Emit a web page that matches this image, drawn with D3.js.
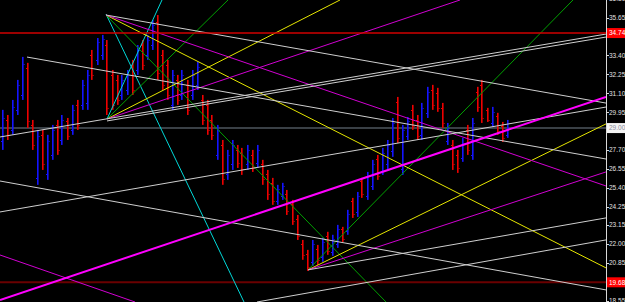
<!DOCTYPE html>
<html><head><meta charset="utf-8">
<script src="https://cdn.jsdelivr.net/npm/d3@7"></script>
<style>html,body{margin:0;padding:0;background:#000;overflow:hidden}svg{display:block}</style>
</head><body><svg id="c" width="625" height="302"></svg>
<script>
// ---- data (prices) ----
const highs=[30.10,29.79,30.70,31.91,33.30,32.94,29.49,28.89,28.89,28.59,29.19,29.49,29.79,29.61,30.40,30.70,31.91,32.51,33.72,34.44,
34.63,34.32,32.51,32.21,32.21,32.51,33.12,34.02,34.32,34.63,35.53,35.83,33.72,33.12,32.51,32.21,32.51,31.91,32.51,33.00,
31.00,30.70,29.79,29.19,28.28,27.68,28.28,27.98,27.80,27.98,27.68,27.98,27.08,26.47,25.99,25.57,25.69,25.26,24.66,23.75,
22.24,21.64,22.24,21.94,22.37,22.73,22.55,23.15,23.03,24.06,24.78,25.14,25.99,26.35,27.08,27.38,27.80,28.28,29.61,30.88,
29.19,29.67,30.40,29.79,30.52,31.49,31.61,31.43,30.52,29.31,28.28,27.68,28.41,29.19,29.61,31.49,31.91,30.22,30.28,29.92,
29.37,29.49];
const lows=[27.68,28.28,28.59,29.79,30.70,29.01,27.68,25.57,26.47,25.87,27.08,27.38,27.98,28.28,28.59,28.89,30.10,30.10,31.91,32.81,
33.12,29.79,30.10,30.40,30.70,31.00,31.00,32.21,32.51,33.12,33.72,31.91,31.30,30.70,30.10,30.40,30.70,29.79,30.70,31.30,
29.19,28.59,28.28,27.08,25.57,25.87,26.47,26.59,26.17,26.47,26.35,26.59,25.57,24.66,24.36,24.36,24.66,23.75,23.15,22.24,
21.04,20.37,20.67,20.73,20.92,21.34,21.28,21.76,22.12,22.55,23.57,23.63,24.78,24.66,25.26,25.87,26.17,26.47,27.26,28.10,
26.17,28.28,28.89,28.28,28.28,29.61,30.10,29.98,29.01,27.98,26.47,26.29,26.96,27.38,27.08,29.98,29.31,29.37,29.07,28.59,
28.16,28.41];
const opens=[28.2,29.5,28.9,30.1,31.0,32.6,29.2,26.0,28.6,26.2,27.4,29.2,28.3,29.4,28.9,30.4,30.4,30.5,33.4,33.1,
33.4,34.0,32.2,31.9,31.0,31.3,32.8,32.5,34.0,33.4,34.0,35.4,33.4,32.8,30.4,31.9,31.0,31.6,31.0,31.6,
30.7,30.4,29.5,27.4,28.0,26.2,26.8,27.7,27.5,26.8,27.4,26.9,26.8,26.2,25.7,24.6,24.9,25.0,24.4,23.5,
22.0,21.4,20.9,21.7,21.2,22.5,21.5,22.0,22.9,22.8,24.6,23.9,25.8,24.9,25.5,27.1,26.4,26.8,27.6,30.6,
26.5,28.5,30.1,29.5,28.6,29.9,31.3,31.1,30.2,28.2,28.0,27.4,27.2,28.9,27.4,31.2,31.6,30.1,29.3,29.7,
29.1,28.6];
const closes=[29.6,28.6,30.3,31.6,32.9,29.4,28.0,28.5,26.8,28.2,28.9,27.7,29.5,28.5,30.1,29.2,31.6,32.2,32.2,34.2,
34.4,30.2,30.4,30.7,31.9,32.2,31.3,33.7,32.8,34.3,35.2,32.3,31.6,31.0,32.2,30.7,32.2,30.1,32.2,32.7,
29.5,28.9,28.6,28.9,25.9,27.4,28.0,26.9,26.5,27.7,26.6,27.7,25.9,25.0,24.6,25.3,25.5,24.0,23.4,22.5,
21.3,20.6,22.0,21.0,22.1,21.6,22.3,22.9,22.3,23.8,23.8,24.9,25.0,26.1,26.8,26.1,27.5,28.0,29.3,28.4,
28.9,29.4,29.1,28.5,30.2,31.2,30.4,30.2,29.3,29.0,26.8,26.6,28.1,27.7,29.3,30.3,29.6,29.5,30.0,28.8,
28.4,29.3];
const tickValues=[36.80,35.65,34.50,33.40,32.25,31.10,29.95,28.80,27.70,26.55,25.40,24.25,23.15,22.00,20.85,19.70,18.55];
// trend lines: [barIndex1, price1, barIndex2, price2]
const whiteLines=[[4.9,33.29,120.7,27.13],[20.7,35.83,120.7,30.51],[-0.5,28.46,120.7,34.68],[20.9,29.43,120.7,34.50],
 [61.1,20.43,120.7,23.57],[50.9,18.49,120.7,22.24],[-0.5,25.80,120.7,19.22],[-0.5,23.93,120.7,30.27]];
const magentaLines=[[20.7,35.83,120.7,25.50],[20.9,29.55,91.5,36.74],[61.1,20.43,120.7,26.35],[-0.5,21.33,26.5,18.49]];
const magentaMain=[[-0.5,18.61,120.7,30.88]];
const yellowLines=[[20.7,35.83,120.7,20.55],[20.9,29.55,67.5,36.74],[61.1,20.43,120.7,29.25]];
const greenLines=[[20.9,29.55,45.1,36.74],[20.7,35.83,76.7,18.49],[61.1,20.43,114.1,36.74]];
const cyanLines=[[20.7,35.89,48.3,18.49],[20.9,29.55,31.9,36.74]];
const resistanceLevel=34.74, currentLevel=29.00, supportLevel=19.68;
const resistanceLabel="34.74", currentLabel="29.00", supportLabel="19.68";

// ---- drawing ----
const W=625,H=302,plotR=606;
const svg=d3.select("#c");
svg.append("rect").attr("width",W).attr("height",H).attr("fill","#000");
const x=d3.scaleLinear().domain([0,101]).range([2.5,507.5]);
const y=d3.scaleLinear().domain([35.65,18.55]).range([18,301]);
svg.append("defs").append("clipPath").attr("id","pc").append("rect").attr("x",0).attr("y",0).attr("width",plotR).attr("height",H);
const g=svg.append("g").attr("clip-path","url(#pc)");

// horizontal levels
g.append("line").attr("x1",0).attr("x2",plotR).attr("y1",y(currentLevel)).attr("y2",y(currentLevel)).attr("stroke","#3a4046").attr("stroke-width",2);
g.append("line").attr("x1",0).attr("x2",plotR).attr("y1",y(supportLevel)).attr("y2",y(supportLevel)).attr("stroke","#6a0000").attr("stroke-width",2);

// bars
const bars=d3.range(highs.length).map(i=>({i,h:highs[i],l:lows[i],o:opens[i],c:closes[i]}));
const col=d=>d.c>=d.o?"#1414ff":"#ee0000";
const bg=g.append("g");
bg.selectAll("rect.b").data(bars).join("rect").attr("x",d=>Math.round(x(d.i))-1).attr("width",1.6)
 .attr("y",d=>y(d.h)).attr("height",d=>y(d.l)-y(d.h)).attr("fill",col);
bg.selectAll("rect.o").data(bars).join("rect").attr("x",d=>Math.round(x(d.i))-2).attr("width",1)
 .attr("y",d=>Math.round(y(d.o))).attr("height",1).attr("fill",col);
bg.selectAll("rect.cl").data(bars).join("rect").attr("x",d=>Math.round(x(d.i))+0.6).attr("width",1)
 .attr("y",d=>Math.round(y(d.c))).attr("height",1).attr("fill",col);

function drawLines(arr,color,w){
  g.append("g").selectAll("line").data(arr).join("line")
   .attr("x1",d=>x(d[0])).attr("y1",d=>y(d[1])).attr("x2",d=>x(d[2])).attr("y2",d=>y(d[3]))
   .attr("stroke",color).attr("stroke-width",w);
}
drawLines(cyanLines,"#00d8d8",1);
drawLines(greenLines,"#00a000",1);
drawLines(yellowLines,"#e6e600",1);
drawLines(magentaLines,"#d200d2",1);
drawLines(whiteLines,"#cfcfcf",1);
drawLines(magentaMain,"#ff00ff",2);
g.append("line").attr("x1",0).attr("x2",plotR).attr("y1",y(resistanceLevel)).attr("y2",y(resistanceLevel)).attr("stroke","#d00000").attr("stroke-width",1.5);

// axis
svg.append("line").attr("x1",plotR+0.5).attr("x2",plotR+0.5).attr("y1",0).attr("y2",H).attr("stroke","#d8d8d8").attr("stroke-width",1);
const ax=svg.append("g");
ax.selectAll("line").data(tickValues).join("line").attr("x1",plotR+1).attr("x2",plotR+3)
 .attr("y1",d=>Math.round(y(d))+0.5).attr("y2",d=>Math.round(y(d))+0.5).attr("stroke","#d8d8d8");
const markers=[resistanceLevel,currentLevel,supportLevel];
const visibleTicks=tickValues.filter(v=>markers.every(m=>Math.abs(y(v)-y(m))>6));
ax.selectAll("text").data(visibleTicks).join("text").attr("x",609).attr("y",d=>y(d)).attr("dy","0.35em")
 .attr("fill","#e0e0e0").attr("font-family","Liberation Sans, Arial, sans-serif").attr("font-size","6.5px")
 .text(d=>d.toFixed(2));

function marker(v,label,fill,tc){
  const m=svg.append("g");
  m.append("rect").attr("x",607).attr("y",y(v)-5).attr("width",18).attr("height",10).attr("fill",fill);
  m.append("text").attr("x",609).attr("y",y(v)).attr("dy","0.35em").attr("fill",tc)
   .attr("font-family","Liberation Sans, Arial, sans-serif").attr("font-size","6.5px").text(label);
}
marker(resistanceLevel,resistanceLabel,"#ff0000","#ffffff");
marker(currentLevel,currentLabel,"#f4f4f4","#8a8a9a");
marker(supportLevel,supportLabel,"#ff0000","#ffffff");
</script></body></html>
